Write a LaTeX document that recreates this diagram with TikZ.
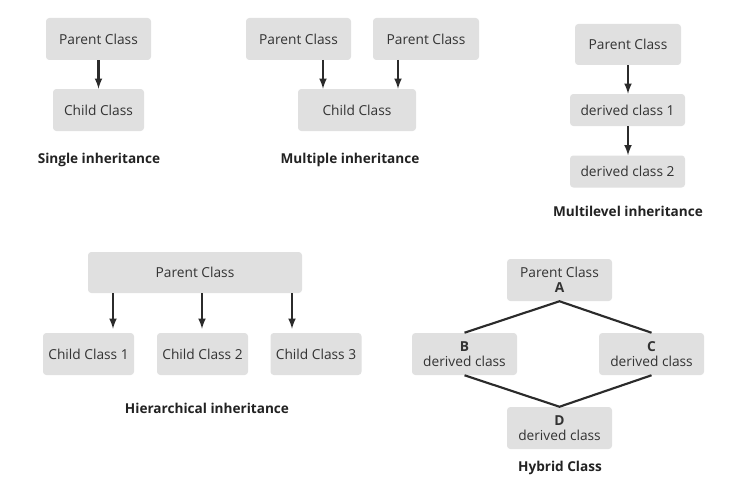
\documentclass[tikz,border=0pt]{standalone}
\usepackage{fontspec}
\setmainfont{Open Sans}
\definecolor{boxgray}{HTML}{E0E0E0}
\definecolor{txtgray}{HTML}{333333}
\definecolor{lbl}{HTML}{222222}
\definecolor{lnk}{HTML}{2B2B2B}
\tikzset{
  cls/.style={fill=boxgray, rounded corners=2.5pt, minimum height=31.5pt, inner sep=1pt,
    text=txtgray, font=\fontsize{10.3}{11}\selectfont, align=center},
  kind/.style={text=lbl, font=\fontsize{10.2}{12}\selectfont\bfseries},
  link/.style={draw=lnk, line width=1.6pt},
}
\begin{document}
\begin{tikzpicture}[>=latex, x=0.75pt, y=-0.75pt]
\useasboundingbox[fill=white] (0,0) rectangle (741,492);

\node[cls, minimum width=78.75pt] (sp) at (98.5,39) {Parent Class};
\node[cls, minimum width=68.25pt] (sc) at (98.5,110) {Child Class};
\draw[link,->] (sp) -- (sc);
\node[kind] (sl) at (99,160) {Single inheritance};

\node[cls, minimum width=78.75pt] (mp1) at (298.5,39) {Parent Class};
\node[cls, minimum width=79.5pt] (mp2) at (426,39) {Parent Class};
\node[cls, minimum width=88.5pt] (mc) at (357,110) {Child Class};
\coordinate (m1) at (323,60);
\coordinate (m2) at (398,60);
\foreach \m in {m1,m2}
{
    \draw[link,->] (\m) -- (\m |- mc.north);
}
\node[kind] (ml) at (350,160) {Multiple inheritance};

\node[cls, minimum width=79.5pt, minimum height=30.75pt] (lp) at (628,44.5) {Parent Class};
\node[cls, minimum width=86.25pt, minimum height=24pt] (ld1) at (627.5,110) {derived class 1};
\node[cls, minimum width=86.25pt, minimum height=24pt] (ld2) at (627.5,171.5) {derived class 2};
\draw[link,->] (lp.south -| 628,0) -- (ld1.north -| 628,0);
\draw[link,->] (ld1.south -| 628,0) -- (ld2.north -| 628,0);
\node[kind] (lvl) at (628,211) {Multilevel inheritance};

\node[cls, minimum width=160.5pt, minimum height=30.75pt] (hp) at (195,272.5) {Parent Class};
\foreach \i/\x/\a in {1/88.5/113, 2/202.5/202, 3/316/292}
{
    \node[cls, minimum width=68.25pt] (hc\i) at (\x,354) {Child Class \i};
    \coordinate (ha\i) at (\a,293);
    \draw[link,->] (ha\i) -- ([yshift=3pt]ha\i |- hc\i.north);
}
\node[kind] (hl) at (207,408) {Hierarchical inheritance};

\node[cls, minimum width=78.75pt] (ya) at (559.5,280) {Parent Class\\\textbf{A}};
\node[cls, minimum width=78.75pt] (yb) at (464.5,354) {\textbf{B}\\derived class};
\node[cls, minimum width=78.75pt] (yc) at (651.5,354) {\textbf{C}\\derived class};
\node[cls, minimum width=78.75pt] (yd) at (559.5,428) {\textbf{D}\\derived class};
\draw[link] (yb.north) -- (ya.south) -- (yc.north);
\draw[link] (yb.south) -- (yd.north) -- (yc.south);
\node[kind] (yl) at (560,468) {Hybrid Class};
\end{tikzpicture}
\end{document}
